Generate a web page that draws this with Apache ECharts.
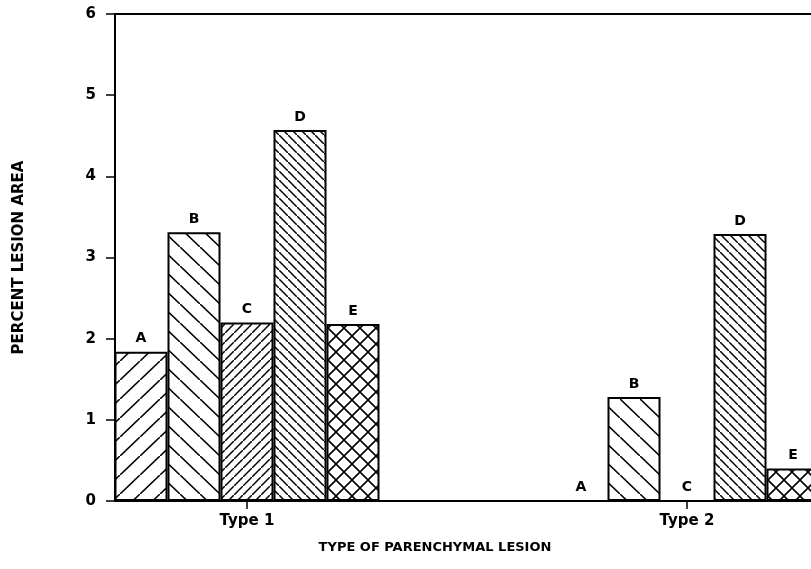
<!DOCTYPE html>
<html><head><meta charset="utf-8">
<script src="https://cdn.jsdelivr.net/npm/echarts@6/dist/echarts.min.js"></script>
<style>html,body{margin:0;padding:0;background:#fff}#c{width:811px;height:569px}</style>
</head><body><div id="c"></div>
<script>
// ---- data ----
const categories = ["Type 1", "Type 2"];
const seriesNames = ["A", "B", "C", "D", "E"];
const valuesA = [1.84, 0];
const valuesB = [3.31, 1.28];
const valuesC = [2.20, 0];
const valuesD = [4.57, 3.29];
const valuesE = [2.18, 0.40];
const yTickLabels = ["0", "1", "2", "3", "4", "5", "6"];
const yTitle = "PERCENT LESION AREA";
const xTitle = "TYPE OF PARENCHYMAL LESION";

// ---- patterns ----
function hatch(w, h, dir, lw) {
  const c = document.createElement('canvas');
  c.width = w; c.height = h;
  const g = c.getContext('2d');
  g.fillStyle = '#fff'; g.fillRect(0, 0, w, h);
  g.strokeStyle = '#000'; g.lineWidth = lw;
  g.beginPath();
  if (dir === '/') { g.moveTo(-w, 2 * h); g.lineTo(2 * w, -h); }
  if (dir === '\\') { g.moveTo(-w, -h); g.lineTo(2 * w, 2 * h); }
  if (dir === 'x') {
    g.moveTo(-w, 2 * h); g.lineTo(2 * w, -h);
    g.moveTo(-w, -h); g.lineTo(2 * w, 2 * h);
  }
  g.stroke();
  return { image: c, repeat: 'repeat' };
}
const patterns = [
  hatch(20, 19, '/', 1.6),
  hatch(20, 19, '\\', 1.6),
  hatch(9, 9, '/', 1.5),
  hatch(9, 9, '\\', 1.5),
  hatch(16, 16, 'x', 1.6)
];
const allValues = [valuesA, valuesB, valuesC, valuesD, valuesE];
const positions = categories.map((_, i) => i + 1);

const FONT = 'DejaVu Sans';
const series = seriesNames.map((name, si) => ({
  name: name,
  type: 'bar',
  barWidth: 53,
  barGap: '0%',
  data: allValues[si].map((v, ci) => [positions[ci], v]),
  itemStyle: { color: patterns[si], borderColor: '#000', borderWidth: 2 },
  label: {
    show: true, position: 'top', distance: 6,
    formatter: () => name,
    color: '#000', fontFamily: FONT, fontWeight: 'bold', fontSize: 14
  }
}));

const chart = echarts.init(document.getElementById('c'), null, { renderer: 'canvas' });
chart.setOption({
  animation: false,
  backgroundColor: '#fff',
  grid: { left: 115, right: 0, top: 14, bottom: 68 },
  xAxis: [{
    type: 'value', min: 0.7, max: 2.2818, position: 'bottom',
    axisLine: { show: true, onZero: false, lineStyle: { color: '#000', width: 2 } },
    splitLine: { show: false },
    axisTick: { show: true, customValues: positions, length: 8, lineStyle: { color: '#000', width: 1.5 } },
    axisLabel: {
      customValues: positions, margin: 13,
      formatter: v => categories[Math.round(v) - 1],
      color: '#000', fontFamily: FONT, fontWeight: 'bold', fontSize: 15
    }
  }, {
    type: 'value', min: 0.7, max: 2.2818, position: 'top',
    axisLine: { show: true, onZero: false, lineStyle: { color: '#000', width: 2 } },
    splitLine: { show: false }, axisTick: { show: false }, axisLabel: { show: false }
  }],
  yAxis: {
    type: 'value', min: 0, max: 6, interval: 1,
    name: yTitle, nameLocation: 'middle', nameGap: 88, nameRotate: 90,
    nameTextStyle: { color: '#000', fontFamily: FONT, fontWeight: 'bold', fontSize: 15 },
    axisLine: { show: true, onZero: false, lineStyle: { color: '#000', width: 2 } },
    axisTick: { show: true, length: 9, lineStyle: { color: '#000', width: 1.5 } },
    splitLine: { show: false },
    axisLabel: {
      margin: 19, formatter: v => yTickLabels[Math.round(v)],
      color: '#000', fontFamily: FONT, fontWeight: 'bold', fontSize: 15
    }
  },
  graphic: [{
    type: 'text',
    style: { x: 435, y: 548, text: xTitle, textAlign: 'center', textVerticalAlign: 'middle',
      fill: '#000', font: 'bold 13px "DejaVu Sans"' }
  }],
  series: series
});
</script></body></html>
